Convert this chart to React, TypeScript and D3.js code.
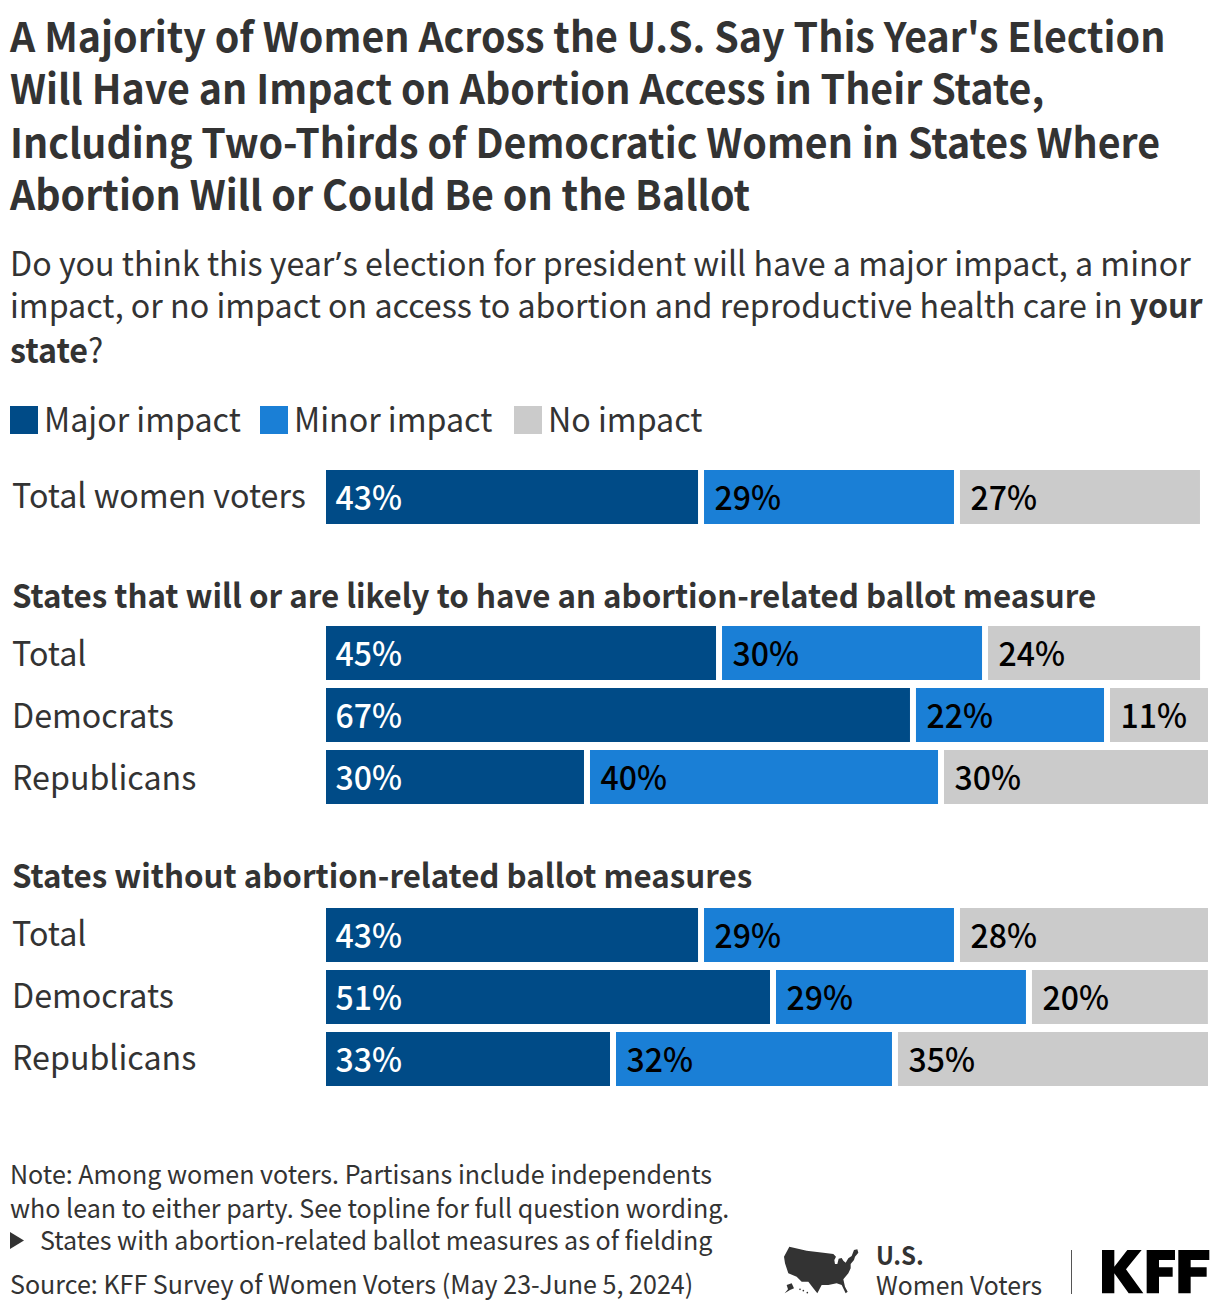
import React from "react";
import * as d3 from "d3";

const titleLines = [
  "A Majority of Women Across the U.S. Say This Year's Election",
  "Will Have an Impact on Abortion Access in Their State,",
  "Including Two-Thirds of Democratic Women in States Where",
  "Abortion Will or Could Be on the Ballot",
];
const seriesNames = ["Major impact", "Minor impact", "No impact"];
const seriesColors = ["#004b87", "#1a7fd6", "#cbcbcb"];
const seriesText = ["#ffffff", "#000000", "#000000"];

const rowLabels = ["Total women voters", "Total", "Democrats", "Republicans", "Total", "Democrats", "Republicans"];
const majorValues = [42.86, 44.9, 66.89, 29.93, 42.86, 51.02, 32.88];
const minorValues = [29.02, 30.16, 22.0, 40.14, 29.02, 29.02, 31.97];
const noneValues = [27.21, 24.04, 11.11, 29.93, 28.12, 19.95, 35.15];
const rowTops = [470, 626, 688, 750, 908, 970, 1032];
const labelBaselines = [508, 666, 728, 790, 946, 1008, 1070];
const BAR_H = 54;
const GAP = 6;

const headings = [
  { text: "States that will or are likely to have an abortion-related ballot measure", y: 608 },
  { text: "States without abortion-related ballot measures", y: 888 },
];

const FONT = "'Noto Sans CJK SC', 'Noto Sans', sans-serif";
const TEXT = "#333333";
const SX = 0.96;

const x = d3.scaleLinear().domain([0, 100]).range([326, 1208]);
const pct = d3.format(".0f");

const mapOutline: [number, number][] = [
  [28,20],[80,32],[130,38],[160,42],[168,50],[163,60],[165,72],[172,72],[176,56],[185,54],[190,62],[197,68],[205,55],[215,48],[222,30],[232,28],[235,38],[225,50],[222,60],[212,72],[212,85],[205,100],[190,118],[195,140],[203,155],[197,160],[185,135],[170,130],[145,135],[125,135],[112,160],[100,145],[85,125],[65,125],[50,110],[25,100],[15,70],[12,50],
];
const alaska: [number, number][] = [[20,135],[35,130],[42,145],[30,150],[14,160],[24,148]];
const hawaii: [number, number][] = [[60,148],[70,152],[82,158]];
const poly = d3.line().curve(d3.curveLinearClosed);

function T({ x: tx, y, size, weight, fill, sx = SX, children }: any) {
  return (
    <text transform={`translate(${tx},${y}) scale(${sx},1)`} fontSize={size} fontWeight={weight} fill={fill ?? TEXT}>
      {children}
    </text>
  );
}

export default function App() {
  return (
    <svg
      width={1220}
      height={1312}
      viewBox="0 0 1220 1312"
      style={{ position: "absolute", left: 0, top: 0, background: "#fff" }}
      fontFamily={FONT}
    >
      {titleLines.map((t, i) => (
        <T key={t} x={10} y={[52, 104, 158, 210][i]} size={41} weight={700}>{t}</T>
      ))}

      <T x={10} y={276} size={33.55}>Do you think this year<tspan fontFamily="'Noto Sans'" fontSize={33} dx={1.5}>’</tspan><tspan dx={1.5}>s election for president will have a major impact, a minor</tspan></T>
      <T x={10} y={318} size={33.55}>impact, or no impact on access to abortion and reproductive health care in <tspan fontWeight={700}>your</tspan></T>
      <T x={10} y={362.5} size={33.55}><tspan fontWeight={700}>state</tspan>?</T>

      {seriesNames.map((n, i) => {
        const lx = [10, 260, 514][i];
        return (
          <g key={n}>
            <rect x={lx} y={406} width={28} height={28} fill={seriesColors[i]} />
            <T x={lx + 34} y={432} size={33.55}>{n}</T>
          </g>
        );
      })}

      {headings.map((h) => (
        <T key={h.text} x={12} y={h.y} size={32.6} weight={700}>{h.text}</T>
      ))}

      {rowLabels.map((label, r) => {
        const vals = [majorValues[r], minorValues[r], noneValues[r]];
        const y0 = rowTops[r];
        let cum = 0;
        return (
          <g key={r}>
            <T x={12} y={labelBaselines[r]} size={33.55}>{label}</T>
            {vals.map((v, s) => {
              const left = x(cum);
              cum += v;
              const right = Math.min(x(cum), 1208) - (s < 2 ? GAP : 0);
              return (
                <g key={s}>
                  <rect x={left} y={y0} width={right - left} height={BAR_H} fill={seriesColors[s]} />
                  <T x={left + (s === 0 ? 9.5 : 10.5)} y={y0 + 40} size={33.3} weight={500} fill={seriesText[s]}>{pct(v)}%</T>
                </g>
              );
            })}
          </g>
        );
      })}

      <T x={10} y={1184} size={26.1}>Note: Among women voters. Partisans include independents</T>
      <T x={10} y={1218} size={26.1}>who lean to either party. See topline for full question wording.</T>
      <path d="M10,1232 L24,1240.5 L10,1249 Z" fill="#333" />
      <T x={40} y={1250} size={26.1}>States with abortion-related ballot measures as of fielding</T>
      <T x={10} y={1294} size={26.1}>Source: KFF Survey of Women Voters (May 23-June 5, 2024)</T>

      <g transform="translate(780,1240) scale(0.3333)" fill="#333">
        <path d={poly(mapOutline) ?? ""} />
        <path d={poly(alaska) ?? ""} />
        {hawaii.map(([cx, cy]) => <circle key={cx} cx={cx} cy={cy} r={2.5} />)}
      </g>
      <T x={876} y={1265} size={25} weight={700}>U.S.</T>
      <T x={876} y={1295} size={25.8}>Women Voters</T>
      <line x1={1071.5} x2={1071.5} y1={1250} y2={1294} stroke="#555" strokeWidth={1} />
      <g transform="translate(1090,1240) scale(0.3333)" fill="#000">
        <path d="M36,30 H73 V80 L112,30 H155 L108,88 L160,160 H116 L73,100 V160 H36 Z" />
        <path d="M170,30 H255 V60 H207 V82 H248 V110 H207 V160 H170 Z" />
        <path d="M265,30 H358 V60 H302 V82 H350 V110 H302 V160 H265 Z" />
      </g>
    </svg>
  );
}
